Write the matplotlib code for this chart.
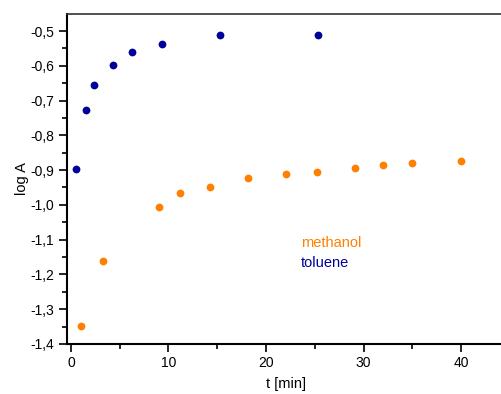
import matplotlib
matplotlib.use("Agg")
import matplotlib.pyplot as plt
from matplotlib.ticker import MultipleLocator, FuncFormatter

plt.rcParams['font.family'] = ['Liberation Sans', 'DejaVu Sans']

toluene_t = [0.5, 1.5, 2.4, 4.3, 6.3, 9.3, 15.3, 25.3]
toluene_logA = [-0.897, -0.726, -0.656, -0.597, -0.561, -0.536, -0.511, -0.511]

methanol_t = [1.0, 3.3, 9.0, 11.2, 14.3, 18.2, 22.0, 25.2, 29.1, 32.0, 35.0, 40.0]
methanol_logA = [-1.347, -1.162, -1.005, -0.966, -0.948, -0.922, -0.911, -0.905, -0.894, -0.886, -0.880, -0.874]

blue = '#000099'
orange = '#ff8000'

fig = plt.figure(figsize=(5.01, 3.94), dpi=100)
ax = fig.add_axes([0.1337, 0.127, 0.8763, 0.8375])

ax.plot(toluene_t, toluene_logA, 'o', color=blue, markersize=5.6, markeredgewidth=0, clip_on=False)
ax.plot(methanol_t, methanol_logA, 'o', color=orange, markersize=5.6, markeredgewidth=0, clip_on=False)

ax.set_xlim(-0.4, 44.6)
ax.set_ylim(-1.4, -0.451)

ax.xaxis.set_major_locator(MultipleLocator(10))
ax.xaxis.set_minor_locator(MultipleLocator(5))
ax.yaxis.set_major_locator(MultipleLocator(0.1))
ax.yaxis.set_minor_locator(MultipleLocator(0.05))
ax.yaxis.set_major_formatter(FuncFormatter(lambda v, p: ('%.1f' % v).replace('.', ',')))

ax.spines['right'].set_visible(False)
ax.spines['left'].set_linewidth(1.5)
ax.spines['bottom'].set_linewidth(1.5)
ax.spines['top'].set_linewidth(1.2)
ax.spines['top'].set_color('#333333')

ax.tick_params(which='major', direction='out', length=6, width=1.2, labelsize=10, pad=3)
ax.tick_params(which='minor', direction='out', length=3.5, width=1.2)
ax.tick_params(top=False, right=False, which='both')

ax.set_xlabel('t [min]', fontsize=10.5, labelpad=5)
ax.set_ylabel('log A', fontsize=10.5, labelpad=1.5)

ax.text(23.6, -1.111, 'methanol', color=orange, fontsize=10.5, va='center', ha='left')
ax.text(23.6, -1.167, 'toluene', color=blue, fontsize=10.5, va='center', ha='left')

fig.savefig('out.png', dpi=100)
